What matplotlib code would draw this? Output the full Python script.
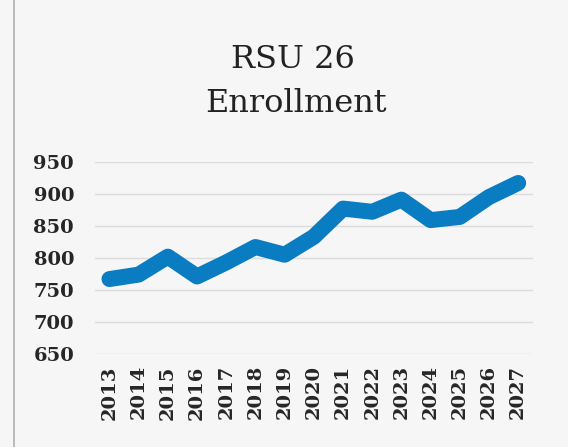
import matplotlib
matplotlib.use("Agg")
import matplotlib.pyplot as plt
from matplotlib.lines import Line2D

years = ["2013", "2014", "2015", "2016", "2017", "2018", "2019", "2020",
         "2021", "2022", "2023", "2024", "2025", "2026", "2027"]
enrollment = [767, 774, 802, 771, 793, 817, 805, 833,
              877, 872, 891, 859, 864, 895, 917]
y_ticks = [650, 700, 750, 800, 850, 900, 950]

bg = "#f6f6f6"
fig = plt.figure(figsize=(5.68, 4.47), dpi=100, facecolor=bg)
ax = fig.add_axes([0.167, 0.208, 0.771, 0.43], facecolor=bg)

x = list(range(len(years)))
ax.plot(x, enrollment, color="#0a7cc1", linewidth=11.5,
        solid_capstyle="round", solid_joinstyle="round", zorder=3)

ax.set_xlim(-0.5, len(years) - 0.5)
ax.set_ylim(650, 950)
ax.set_yticks(y_ticks)
ax.set_xticks(x)
ax.set_xticklabels(years, rotation=90)
for lbl in ax.get_xticklabels() + ax.get_yticklabels():
    lbl.set_fontfamily("DejaVu Serif")
    lbl.set_fontweight("bold")
    lbl.set_fontsize(14)
    lbl.set_color("#262626")
ax.tick_params(axis="both", length=0)
ax.tick_params(axis="x", pad=8)
ax.tick_params(axis="y", pad=15)
ax.grid(axis="y", color="#dcdcdc", linewidth=1)
ax.set_axisbelow(True)
for s in ax.spines.values():
    s.set_visible(False)

fig.text(0.516, 1 - 60 / 447, "RSU 26", ha="center", va="center",
         fontfamily="DejaVu Serif", fontsize=23, color="#222222")
fig.text(0.522, 1 - 103 / 447, "Enrollment", ha="center", va="center",
         fontfamily="DejaVu Serif", fontsize=23, color="#222222")

# scanned page edge on the left
fig.add_artist(Line2D([0.024, 0.024], [0.0, 1.0], color="#b0b0b0",
                      linewidth=1.2, transform=fig.transFigure))

fig.savefig("out.png", dpi=100, facecolor=bg)
